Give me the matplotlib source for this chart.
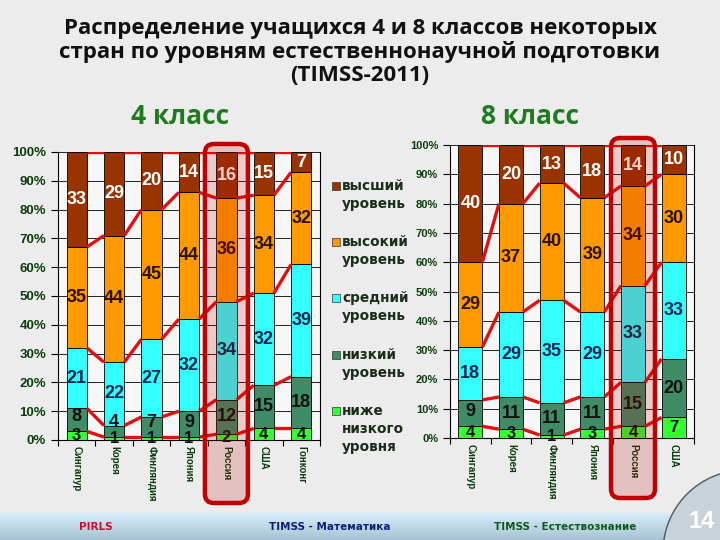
import numpy as np
import matplotlib.pyplot as plt
from matplotlib.colors import LinearSegmentedColormap
from matplotlib.patches import FancyBboxPatch, Rectangle, Circle

# ---- data ----
cats4 = ['Сингапур', 'Корея', 'Финляндия', 'Япония', 'Россия', 'США', 'Гонконг']
below4 = [3, 1, 1, 1, 2, 4, 4]
low4 = [8, 4, 7, 9, 12, 15, 18]
mid4 = [21, 22, 27, 32, 34, 32, 39]
high4 = [35, 44, 45, 44, 36, 34, 32]
adv4 = [33, 29, 20, 14, 16, 15, 7]

cats8 = ['Сингапур', 'Корея', 'Финляндия', 'Япония', 'Россия', 'США']
below8 = [4, 3, 1, 3, 4, 7]
low8 = [9, 11, 11, 11, 15, 20]
mid8 = [18, 29, 35, 29, 33, 33]
high8 = [29, 37, 40, 39, 34, 30]
adv8 = [40, 20, 13, 18, 14, 10]

# legend labels, bottom -> top (same order as the stacks)
levels = ['ниже\nнизкого\nуровня', 'низкий\nуровень', 'средний\nуровень',
          'высокий\nуровень', 'высший\nуровень']
colors = ['#33FF33', '#3F8C66', '#33FFFF', '#FF9900', '#993300']   # bottom -> top
txtcol = ['#111111', '#111111', '#0A2850', '#2A1200', '#FFFFFF']
tick_green = '#0B3D0B'

plt.rcParams['font.family'] = ['Liberation Sans', 'DejaVu Sans']

fig = plt.figure(figsize=(7.2, 5.4), dpi=100, facecolor='#ECECEC')


def stacked(ax, cats, series, width, ylab_size):
    x = np.arange(len(cats))
    bottom = np.zeros(len(cats))
    for k, vals in enumerate(series):
        vals = np.array(vals, dtype=float)
        ax.bar(x, vals, width, bottom=bottom, color=colors[k], edgecolor='black',
               linewidth=0.6, zorder=3)
        for i, v in enumerate(vals):
            yc = bottom[i] + v / 2
            if k == 1:
                yc = max(yc, bottom[i] + 5)   # keep clear of the tiny bottom label
            ax.text(x[i], yc, '%d' % v, ha='center', va='center',
                    fontsize=13 if k else 12, fontweight='bold', color=txtcol[k], zorder=6)
        top = bottom + vals
        # series lines between bars
        for i in range(len(cats) - 1):
            ax.plot([x[i] + width / 2, x[i + 1] - width / 2], [top[i], top[i + 1]],
                    color='#E01010', lw=2.4, zorder=5, solid_capstyle='butt')
        bottom = top
    ax.set_xlim(-0.5, len(cats) - 0.5)
    ax.set_ylim(0, 100)
    ax.set_facecolor('#F7F7F7')
    ax.set_yticks(np.arange(0, 101, 10))
    ax.set_yticklabels(['%d%%' % v for v in range(0, 101, 10)])
    ax.yaxis.grid(True, color='black', lw=0.6, zorder=0)
    ax.set_xticks(x)
    ax.set_xticklabels(cats, rotation=-90, va='top', ha='center',
                       fontsize=7, fontweight='bold', color=tick_green)
    ax.set_xticks(np.arange(len(cats) + 1) - 0.5, minor=True)
    ax.tick_params(axis='x', which='major', length=0, pad=4)
    ax.tick_params(axis='x', which='minor', length=4, width=0.8)
    ax.tick_params(axis='y', length=5, width=0.8, labelsize=ylab_size, labelcolor=tick_green)
    for lab in ax.get_yticklabels():
        lab.set_fontweight('bold')
    for s in ax.spines.values():
        s.set_linewidth(0.8)
    ax.spines['top'].set_visible(False)
    return x


ax1 = fig.add_axes([58 / 720, 1 - 440 / 540, 262 / 720, 288 / 540])
stacked(ax1, cats4, [below4, low4, mid4, high4, adv4], 0.54, 9.5)
ax2 = fig.add_axes([450 / 720, 1 - 438 / 540, 244 / 720, 293 / 540])
stacked(ax2, cats8, [below8, low8, mid8, high8, adv8], 0.59, 8)

# overlay axes in pixel coordinates
ov = fig.add_axes([0, 0, 1, 1], zorder=10)
ov.axis('off')
ov.patch.set_alpha(0)

# bottom banner
grad = np.linspace(0, 1, 50).reshape(-1, 1)
ov.imshow(grad, extent=[0, 720, 0, 27], aspect='auto',
          cmap=LinearSegmentedColormap.from_list('b', ['#D8EDF9', '#A6C3D3']),
          origin='upper', zorder=1)
ov.set_xlim(0, 720)
ov.set_ylim(0, 540)
ov.text(96, 13, 'PIRLS', color='#C8102E', fontsize=7.5, fontweight='bold',
        ha='center', va='center', family='DejaVu Sans')
ov.text(330, 13, 'TIMSS - Математика', color='#0A1F7A', fontsize=7.5, fontweight='bold',
        ha='center', va='center', family='DejaVu Sans')
ov.text(565, 13, 'TIMSS - Естествознание', color='#0B5A1E', fontsize=7.5, fontweight='bold',
        ha='center', va='center', family='DejaVu Sans')
ov.add_patch(Circle((745, -12), 82, facecolor='#C8D2D8', edgecolor='#4A5A66', lw=1, zorder=2))
ov.text(702, 18, '14', color='white', fontsize=17, fontweight='bold', ha='center',
        va='center', zorder=3)

# Russia highlight boxes
for ax, idx, top, bot, w in [(ax1, 4, 396, 37, 43), (ax2, 4, 402, 42, 44)]:
    cx = ax.transData.transform((idx, 0))[0]
    ov.add_patch(FancyBboxPatch((cx - w / 2, bot), w, top - bot,
                                boxstyle='round,pad=0,rounding_size=9',
                                facecolor=(0.75, 0.0, 0.0, 0.18), edgecolor='#C00000',
                                lw=3.2, zorder=4))

# legend (top -> bottom)
leg_y = [186, 242, 298, 355, 411]
for j, y in enumerate(leg_y):
    k = 4 - j
    ov.add_patch(Rectangle((332, 540 - y - 4), 8, 8, facecolor=colors[k],
                           edgecolor='#333333', lw=0.5, zorder=3))
    ov.text(342, 540 - y + 7, levels[k], fontsize=9.8, fontweight='bold', color='#1A2E1A',
            ha='left', va='top', linespacing=1.35, zorder=3, family='DejaVu Sans')

# titles
fig.text(0.5, 1 - 52 / 540, 'Распределение учащихся 4 и 8 классов некоторых\n'
         'стран по уровням естественнонаучной подготовки\n(TIMSS-2011)',
         ha='center', va='center', fontsize=16, fontweight='bold', color='#111111',
         family='Open Sans', linespacing=1.12)
fig.text(180 / 720, 1 - 116 / 540, '4 класс', ha='center', va='center', fontsize=19,
         fontweight='bold', color='#1E7B1E', family='Open Sans')
fig.text(530 / 720, 1 - 116 / 540, '8 класс', ha='center', va='center', fontsize=19,
         fontweight='bold', color='#1E7B1E', family='Open Sans')

fig.savefig('out.png', dpi=100, facecolor=fig.get_facecolor())
